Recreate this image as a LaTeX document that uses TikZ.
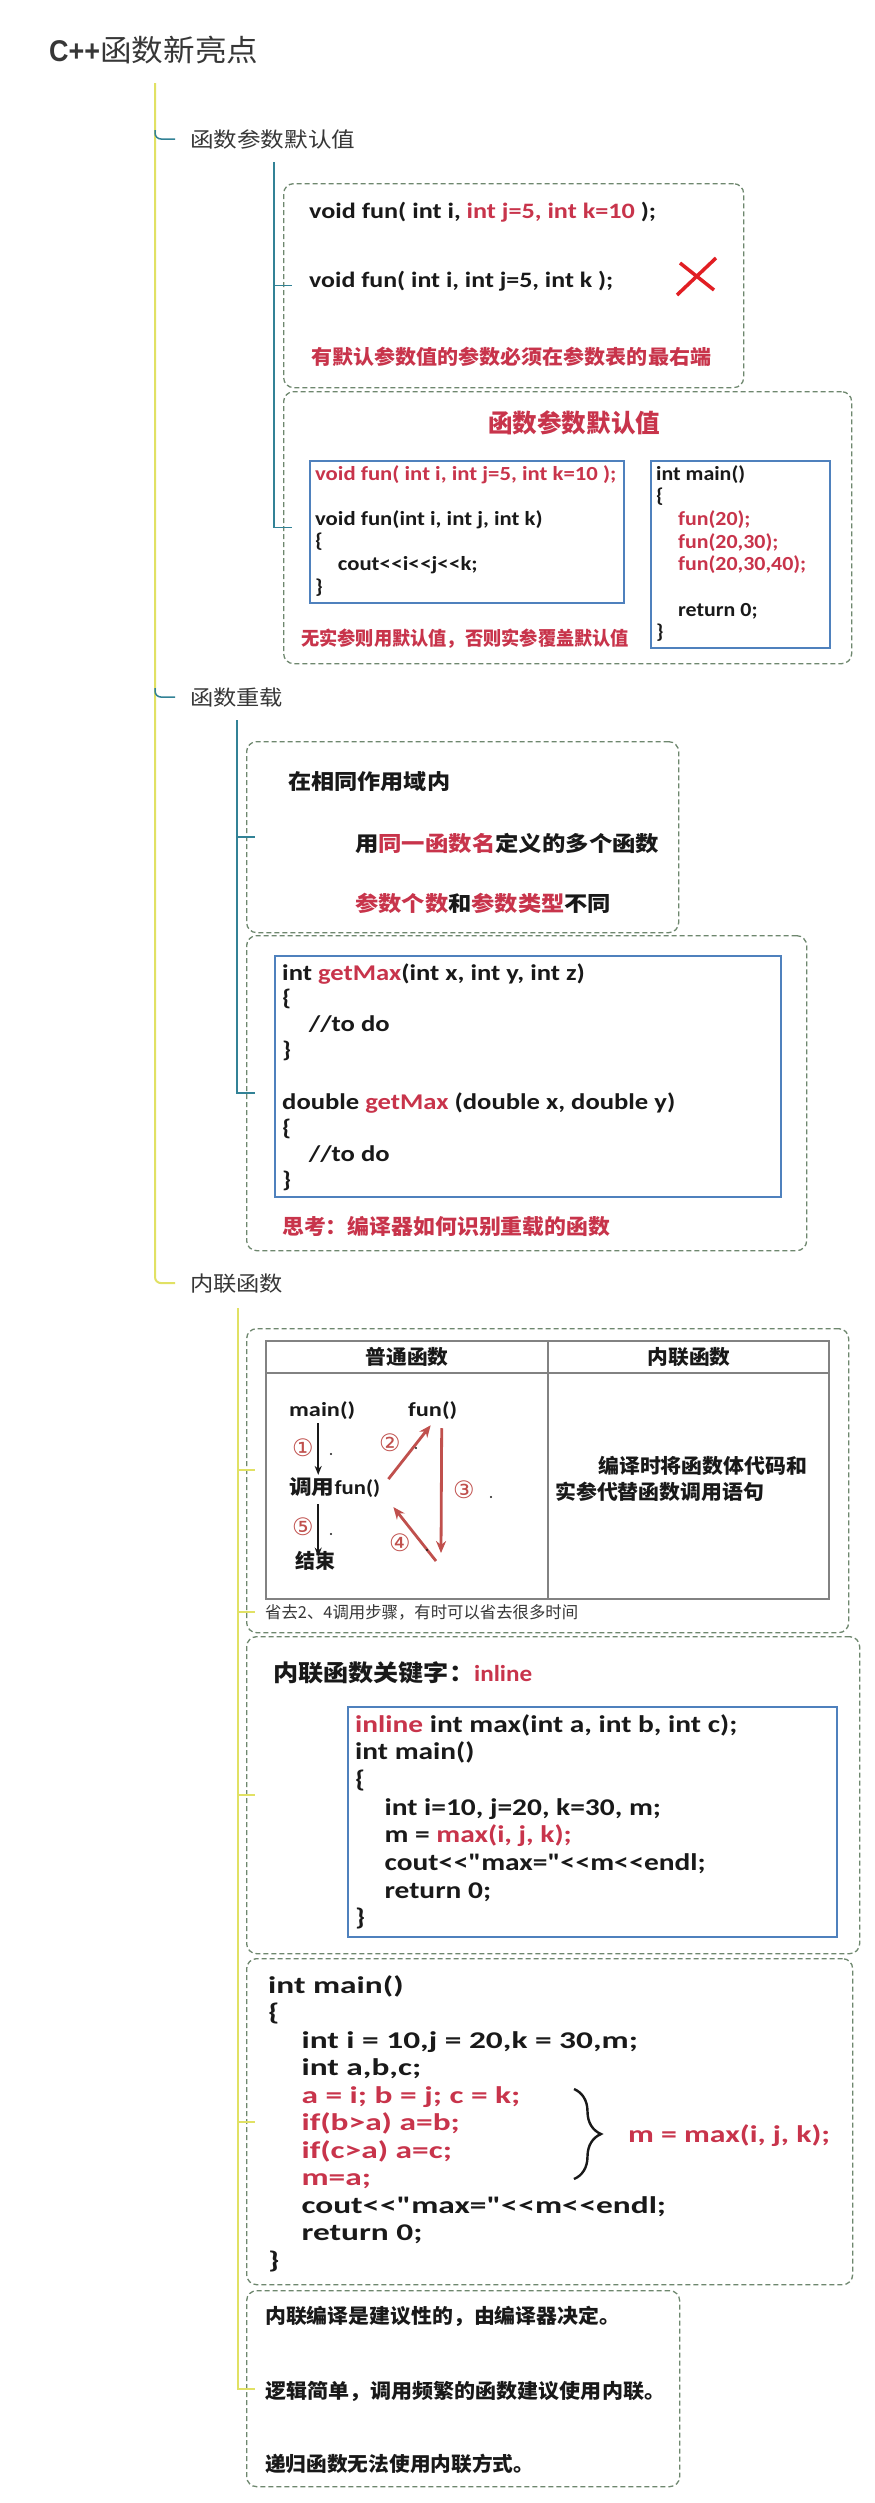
\documentclass[tikz,border=0pt]{standalone}
\usepackage{fontspec}
\usepackage{graphicx}
\usetikzlibrary{arrows.meta,calc,decorations.pathreplacing}

\newfontfamily\cjk{Noto Sans CJK SC}
\newfontfamily\code{Carlito}
\newfontfamily\sans{Liberation Sans}
\newfontfamily\dsym{DejaVu Sans}

\definecolor{cred}{RGB}{200,52,75}
\definecolor{ared}{RGB}{192,80,77}
\definecolor{xred}{RGB}{225,30,35}
\definecolor{pblue}{RGB}{79,129,189}
\definecolor{dgreen}{RGB}{110,135,110}
\definecolor{tealc}{RGB}{50,130,150}
\definecolor{trunkc}{RGB}{225,225,100}
\definecolor{tgray}{RGB}{130,130,130}
\definecolor{ink}{RGB}{25,25,25}
\definecolor{lblc}{RGB}{55,55,55}

\newcommand{\fitw}[2]{\resizebox{#1}{\height}{#2}}
\newcommand{\rd}[1]{\textcolor{cred}{#1}}
\newcommand{\ltlt}{<\kern0.5pt<}
\newcommand{\ind}{\hspace*{1em}}

\begin{document}
\begin{tikzpicture}[x=1pt,y=-1pt,
	dbox/.style={draw=dgreen, dash pattern=on 5pt off 3pt, line width=1.3pt, rounded corners=10pt, anchor=north west, inner sep=0pt},
	pbox/.style={draw=pblue, line width=2.4pt, anchor=north west, inner sep=0pt},
	txt/.style={anchor=base west, inner sep=0pt, text=ink},
	cjkb/.style={txt, font=\cjk\bfseries\fontsize{#1}{#1}\selectfont},
	codef/.style args={#1/#2}{txt, font=\code\bfseries\fontsize{#1}{#2}\selectfont},
	lbl/.style={txt, text=lblc, font=\cjk\fontsize{21}{21}\selectfont},
	circ/.style={inner sep=0pt, text=ared, font=\dsym\fontsize{24}{24}\selectfont},
	tline/.style={tealc, line width=1.5pt},
	yline/.style={trunkc, line width=2pt},
	barrow/.style={-{Stealth[length=9pt,width=7pt]}, line width=1.8pt, ink},
	rarrow/.style={-{Stealth[length=12pt,width=10pt]}, line width=2.8pt, ared}]
	\fill[white] (0,0) rectangle (875,2503);
	\useasboundingbox (0,0) rectangle (875,2503);

	% title and branch labels
	\node[txt, text=lblc, font=\fontsize{30}{30}\selectfont] (title) at (49,61) {\fitw{51pt}{\sans\bfseries C++}\fitw{158pt}{\cjk 函数新亮点}};
	\node[lbl] (l1) at (190,147) {\fitw{165pt}{函数参数默认值}};
	\node[lbl] (l2) at (190,705) {\fitw{93pt}{函数重载}};
	\node[lbl] (l3) at (190,1291) {\fitw{93pt}{内联函数}};

	% dashed frames
	\node[dbox, minimum width=460pt, minimum height=204pt] (b1) at (283,183) {};
	\node[dbox, minimum width=568pt, minimum height=272pt] (b2) at (283,391) {};
	\node[dbox, minimum width=432pt, minimum height=191pt] (b3) at (246,741) {};
	\node[dbox, minimum width=560pt, minimum height=315pt] (b4) at (246,935) {};
	\node[dbox, minimum width=602pt, minimum height=304pt] (b5) at (246,1328) {};
	\node[dbox, minimum width=613pt, minimum height=317pt] (b6) at (246,1636) {};
	\node[dbox, minimum width=606pt, minimum height=326pt] (b7) at (246,1958) {};
	\node[dbox, minimum width=433pt, minimum height=196pt] (b8) at (246,2290) {};

	% default arguments
	\node[codef=22/26] (d1) at (309,218) {\fitw{347pt}{void fun( int i, \rd{int j=5, int k=10} );}};
	\node[codef=22/26] (d2) at (309,287) {\fitw{304pt}{void fun( int i, int j=5, int k );}};
	\draw[xred, line width=3.5pt] (680,263) -- (714,290) (716,258) -- (677,295);
	\node[cjkb=20, text=cred] (d3) at (311,364) {\fitw{400pt}{有默认参数值的参数必须在参数表的最右端}};

	\node[cjkb=25, text=cred] (t2) at (488,432) {\fitw{172pt}{函数参数默认值}};
	\node[pbox, minimum width=314pt, minimum height=142pt] (p2a) at (309,460) {};
	\node[pbox, minimum width=179pt, minimum height=187pt] (p2b) at (650,460) {};
	\node[codef=20/22.6] (c2a) at (315,480) {\fitw{301pt}{\begin{tabular}[t]{@{}l@{}}
		\rd{void fun( int i, int j=5, int k=10 );}\\
		\\
		void fun(int i, int j, int k)\\
		\{\\
		\ind cout\ltlt i\ltlt j\ltlt k;\\
		\}
	\end{tabular}}};
	\node[codef=20/22.7] (c2b) at (656,480) {\fitw{150pt}{\begin{tabular}[t]{@{}l@{}}
		int main()\\
		\{\\
		\ind\rd{fun(20);}\\
		\ind\rd{fun(20,30);}\\
		\ind\rd{fun(20,30,40);}\\
		\\
		\ind return 0;\\
		\}
	\end{tabular}}};
	\node[cjkb=19, text=cred] (r2) at (301,645) {\fitw{328pt}{无实参则用默认值，否则实参覆盖默认值}};

	% overloading
	\node[cjkb=21] (o1) at (288,789) {\fitw{162pt}{在相同作用域内}};
	\node[cjkb=21] (o2) at (355,851) {\fitw{304pt}{用\rd{同一函数名}定义的多个函数}};
	\node[cjkb=21] (o3) at (355,911) {\fitw{256pt}{\rd{参数个数}和\rd{参数类型}不同}};

	\node[pbox, minimum width=506pt, minimum height=241pt] (p4) at (274,955) {};
	\node[codef=22.5/25.9] (c4) at (282,980) {\fitw{393pt}{\begin{tabular}[t]{@{}l@{}}
		int \rd{getMax}(int x, int y, int z)\\
		\{\\
		\ind//to do\\
		\}\\
		\\
		double \rd{getMax} (double x, double y)\\
		\{\\
		\ind//to do\\
		\}
	\end{tabular}}};
	\node[cjkb=21, text=cred] (q4) at (282,1234) {\fitw{328pt}{思考：编译器如何识别重载的函数}};

	% call table
	\node[draw=tgray, line width=1.5pt, anchor=north west, inner sep=0pt, minimum width=563pt, minimum height=258pt] (tab) at (265,1340) {};
	\draw[tgray, line width=1.5pt] ([yshift=-33pt]tab.north west) -- ([yshift=-33pt]tab.north east);
	\draw[tgray, line width=1.5pt] ([xshift=283pt]tab.north west) -- ([xshift=283pt]tab.south west);
	\node[cjkb=20, anchor=base] (h1) at (407,1364) {\fitw{83pt}{普通函数}};
	\node[cjkb=20, anchor=base] (h2) at (689,1364) {\fitw{83pt}{内联函数}};
	\node[codef=20/22] (mn) at (289,1416) {\fitw{66pt}{main()}};
	\node[codef=20/22] (fn) at (408,1416) {\fitw{49pt}{fun()}};
	\node[codef=20/22] (cl) at (289,1494) {\fitw{91pt}{{\cjk 调用}fun()}};
	\node[cjkb=20] (en) at (295,1568) {\fitw{40pt}{结束}};
	\coordinate (back) at (441,1553);
	\draw[barrow] ($(mn.south)+(-4,4)$) -- ($(mn.south |- cl.north)+(-4,-2)$);
	\draw[barrow] ($(mn.south |- cl.south)+(-4,7)$) -- ($(mn.south |- en.north)+(-4,6)$);
	\draw[rarrow] ($(cl.east)+(8,-8)$) -- ($(fn.south)+(-2,6)$);
	\draw[rarrow] ($(fn.south)+(9,9)$) -- (back);
	\draw[rarrow] ($(back)+(-5,8)$) -- ($(cl.east)+(13,20)$);
	\node[circ] (n1) at (303,1448) {①};
	\node[circ] (n2) at (390,1443) {②};
	\node[circ] (n3) at (464,1490) {③};
	\node[circ] (n4) at (400,1543) {④};
	\node[circ] (n5) at (303,1527) {⑤};
	\foreach \x/\y in {331/1454, 416/1448, 491/1497, 331/1534, 427/1550}
		\fill[ink] (\x,\y) circle (1.1pt);
	\node[cjkb=20] (w1) at (598,1473) {\fitw{209pt}{编译时将函数体代码和}};
	\node[cjkb=20] (w2) at (555,1499) {\fitw{209pt}{实参代替函数调用语句}};
	\node[txt, text=lblc, font=\cjk\fontsize{16.5}{16.5}\selectfont] (cap) at (265,1618) {\fitw{313pt}{省去2、4调用步骤，有时可以省去很多时间}};

	% inline keyword
	\node[cjkb=23] (k6) at (273,1681) {\fitw{259pt}{内联函数关键字：\rd{\code inline}}};
	\node[pbox, minimum width=489pt, minimum height=230pt] (p6) at (347,1706) {};
	\node[codef=24/27.7] (c6) at (355,1732) {\fitw{382pt}{\begin{tabular}[t]{@{}l@{}}
		\rd{inline} int max(int a, int b, int c);\\
		int main()\\
		\{\\
		\ind int i=10, j=20, k=30, m;\\
		\ind m = \rd{max(i, j, k);}\\
		\ind cout\ltlt"max="\ltlt m\ltlt endl;\\
		\ind return 0;\\
		\}
	\end{tabular}}};

	% expanded body
	\node[codef=24/27.5] (c7) at (268,1993) {\fitw{398pt}{\begin{tabular}[t]{@{}l@{}}
		int main()\\
		\{\\
		\ind int i = 10,j = 20,k = 30,m;\\
		\ind int a,b,c;\\
		\ind\rd{a = i; b = j; c = k;}\\
		\ind\rd{if(b>a) a=b;}\\
		\ind\rd{if(c>a) a=c;}\\
		\ind\rd{m=a;}\\
		\ind cout\ltlt"max="\ltlt m\ltlt endl;\\
		\ind return 0;\\
		\}
	\end{tabular}}};
	\draw[ink, line width=2.4pt, decorate, decoration={brace, amplitude=27pt}] (574,2089) -- (574,2179);
	\node[codef=24/27.5, text=cred] (mx) at (628,2142) {\fitw{202pt}{m = max(i, j, k);}};

	% notes
	\node[cjkb=20] (e1) at (265,2323) {\fitw{355pt}{内联编译是建议性的，由编译器决定。}};
	\node[cjkb=20] (e2) at (265,2398) {\fitw{400pt}{逻辑简单，调用频繁的函数建议使用内联。}};
	\node[cjkb=20] (e3) at (265,2471) {\fitw{269pt}{递归函数无法使用内联方式。}};

	% tree lines
	\coordinate (root) at (155,83);
	\coordinate (k1) at (root |- l1.west);
	\coordinate (k2) at (root |- l2.west);
	\draw[yline, rounded corners=6pt] (root) |- ([xshift=-15pt]l3.west);
	\draw[tline, rounded corners=6pt] ([yshift=9pt]k1) |- ([xshift=-15pt]l1.west);
	\draw[tline, rounded corners=6pt] ([yshift=9pt]k2) |- ([xshift=-15pt]l2.west);

	\coordinate (s1) at (274,162);
	\draw[tline] (s1) -- (s1 |- b2.west) -- ++(18,0);
	\draw[tline] (s1 |- b1.west) -- ++(18,0);
	\coordinate (s2) at (237,720);
	\draw[tline] (s2) -- (s2 |- b4.west) -- ++(18,0);
	\draw[tline] (s2 |- b3.west) -- ++(18,0);
	\coordinate (s3) at (238,1308);
	\draw[yline] (s3) -- (s3 |- b8.west) -- ++(17,0);
	\foreach \n in {tab,cap,b6,b7}
		\draw[yline] (s3 |- \n.west) -- ++(17,0);
\end{tikzpicture}
\end{document}
